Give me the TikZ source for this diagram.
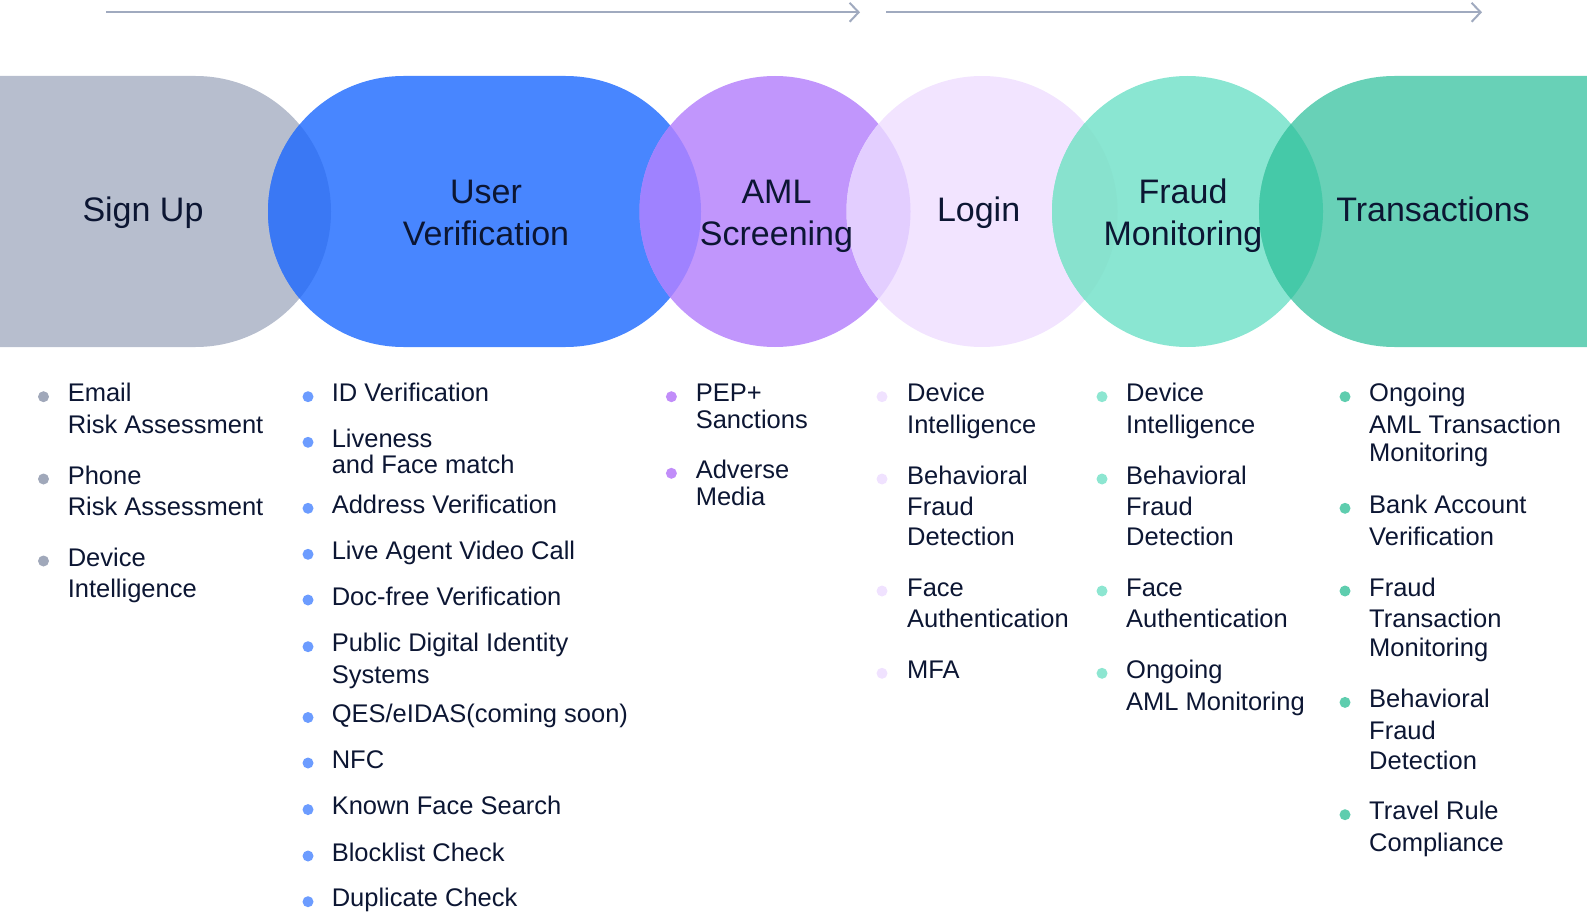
\documentclass[tikz,border=0pt]{standalone}
\usepackage{fontspec}
\setmainfont{Liberation Sans}
\usetikzlibrary{arrows.meta}
\definecolor{txt}{HTML}{0C1633}
\definecolor{cgray}{HTML}{B7BECE}
\definecolor{cblue}{HTML}{4886FF}
\definecolor{cpurple}{HTML}{C196FC}
\definecolor{clogin}{HTML}{F2E4FF}
\definecolor{cfraud}{HTML}{8AE6D2}
\definecolor{ctrans}{HTML}{68D1B7}
\definecolor{ovGB}{HTML}{3A78F4}
\definecolor{ovBP}{HTML}{9F82FF}
\definecolor{ovPL}{HTML}{E3CEFF}
\definecolor{ovLF}{HTML}{88E2CE}
\definecolor{ovFT}{HTML}{45C9A8}
\definecolor{bgray}{HTML}{A0A8BA}
\definecolor{bblue}{HTML}{6C9CFF}
\definecolor{bpurple}{HTML}{C18DF9}
\definecolor{blogin}{HTML}{F0E2FF}
\definecolor{bfraud}{HTML}{8DE6D1}
\definecolor{btrans}{HTML}{5ECDAE}
\definecolor{arrowc}{HTML}{A0AABF}
\def\pSign{(0,76) -- (195.5,76) arc[start angle=-90,end angle=90,radius=135.5] -- (0,347) -- cycle}
\def\pUser{(403.5,76) -- (565.5,76) arc[start angle=-90,end angle=90,radius=135.5] -- (403.5,347) arc[start angle=90,end angle=270,radius=135.5] -- cycle}
\def\pAml{(775,211.5) circle[radius=135.5]}
\def\pLogin{(982,211.5) circle[radius=135.5]}
\def\pFraud{(1187.5,211.5) circle[radius=135.5]}
\def\pTrans{(1587,76) -- (1394.5,76) arc[start angle=270,end angle=90,radius=135.5] -- (1587,347) -- cycle}
\tikzset{
  title/.style={text=txt, inner sep=0pt, anchor=base, align=center,
    font=\fontsize{34}{42.4}\selectfont},
  itm/.style={text=txt, inner sep=0pt, anchor=base west, align=left,
    font=\fontsize{25.5}{26}\selectfont},
  flow/.style={draw=arrowc, line width=2pt,
    -{Straight Barb[length=9pt,width=19pt,line width=2pt]}}
}
% #1 bullet x, #2 text x, #3 first baseline, #4 last baseline, #5 text, #6 colour, #7 name
\newcommand{\bitem}[7]{%
  \fill[#6] (#1,#3-5) circle[radius=5.5];
  \node[itm] (#7) at (#2,#4) {#5};}
\begin{document}
\begin{tikzpicture}[x=1pt,y=-1pt]
\useasboundingbox (0,0) rectangle (1587,915);
% top arrows
\coordinate (a1s) at (106,12.3);
\coordinate (a1e) at (860,12.3);
\coordinate (a2s) at (886,12.3);
\coordinate (a2e) at (1482,12.3);
\draw[flow] (a1s) -- (a1e);
\draw[flow] (a2s) -- (a2e);
% shapes
\fill[cgray] \pSign;
\fill[cblue] \pUser;
\fill[cpurple] \pAml;
\fill[clogin] \pLogin;
\fill[cfraud] \pFraud;
\fill[ctrans] \pTrans;
\begin{scope}\clip \pSign; \fill[ovGB] \pUser; \end{scope}
\begin{scope}\clip \pUser; \fill[ovBP] \pAml; \end{scope}
\begin{scope}\clip \pAml; \fill[ovPL] \pLogin; \end{scope}
\begin{scope}\clip \pLogin; \fill[ovLF] \pFraud; \end{scope}
\begin{scope}\clip \pFraud; \fill[ovFT] \pTrans; \end{scope}
% titles (anchor = baseline of last line)
\node[title] (tsign) at (143,221.7) {Sign Up};
\node[title] (tuser) at (486,245.7) {User\\Verification};
\node[title] (taml) at (776.5,245.7) {AML\\Screening};
\node[title] (tlogin) at (978.6,221.7) {Login};
\node[title] (tfraud) at (1183,245.7) {Fraud\\Monitoring};
\node[title] (ttrans) at (1433,221.7) {Transactions};
% column 1
\bitem{43.5}{67.6}{401.7}{433.3}{Email\\[5.6pt]Risk Assessment}{bgray}{s1}
\bitem{43.5}{67.6}{484}{515.7}{Phone\\[5.6pt]Risk Assessment}{bgray}{s2}
\bitem{43.5}{67.6}{566}{597.9}{Device\\[5.9pt]Intelligence}{bgray}{s3}
% column 2
\bitem{308}{331.6}{401.7}{401.7}{ID Verification}{bblue}{u1}
\bitem{308}{331.6}{447.3}{473.3}{Liveness\\and Face match}{bblue}{u2}
\bitem{308}{331.6}{513.3}{513.3}{Address Verification}{bblue}{u3}
\bitem{308}{331.6}{559.3}{559.3}{Live Agent Video Call}{bblue}{u4}
\bitem{308}{331.6}{605}{605}{Doc-free Verification}{bblue}{u5}
\bitem{308}{331.6}{651.7}{683}{Public Digital Identity\\[5.3pt]Systems}{bblue}{u6}
\bitem{308}{331.6}{722.5}{722.5}{QES/eIDAS(coming soon)}{bblue}{u7}
\bitem{308}{331.6}{768}{768}{NFC}{bblue}{u8}
\bitem{308}{331.6}{814.6}{814.6}{Known Face Search}{bblue}{u9}
\bitem{308}{331.6}{861}{861}{Blocklist Check}{bblue}{u10}
\bitem{308}{331.6}{906.7}{906.7}{Duplicate Check}{bblue}{u11}
% column 3
\bitem{671.4}{695.6}{401.7}{428.3}{PEP+\\[0.6pt]Sanctions}{bpurple}{m1}
\bitem{671.4}{695.6}{478.3}{505}{Adverse\\[0.7pt]Media}{bpurple}{m2}
% column 4
\bitem{882}{907}{401.7}{433.3}{Device\\[5.6pt]Intelligence}{blogin}{l1}
\bitem{882}{907}{484}{545}{Behavioral\\[5.7pt]Fraud\\[3.3pt]Detection}{blogin}{l2}
\bitem{882}{907}{596}{627.7}{Face\\[5.7pt]Authentication}{blogin}{l3}
\bitem{882}{907}{678.3}{678.3}{MFA}{blogin}{l4}
% column 5
\bitem{1102}{1126}{401.7}{433.3}{Device\\[5.6pt]Intelligence}{bfraud}{f1}
\bitem{1102}{1126}{484}{545}{Behavioral\\[5.7pt]Fraud\\[3.3pt]Detection}{bfraud}{f2}
\bitem{1102}{1126}{596}{627.7}{Face\\[5.7pt]Authentication}{bfraud}{f3}
\bitem{1102}{1126}{678.3}{710.4}{Ongoing\\[6.1pt]AML Monitoring}{bfraud}{f4}
% column 6
\bitem{1345}{1369}{401.7}{461.7}{Ongoing\\[5.6pt]AML Transaction\\[2.4pt]Monitoring}{btrans}{x1}
\bitem{1345}{1369}{513.3}{545}{Bank Account\\[5.7pt]Verification}{btrans}{x2}
\bitem{1345}{1369}{596}{656.7}{Fraud\\[5.7pt]Transaction\\[3pt]Monitoring}{btrans}{x3}
\bitem{1345}{1369}{707.4}{769}{Behavioral\\[6.4pt]Fraud\\[3.2pt]Detection}{btrans}{x4}
\bitem{1345}{1369}{819.7}{851}{Travel Rule\\[5.3pt]Compliance}{btrans}{x5}
\end{tikzpicture}
\end{document}
